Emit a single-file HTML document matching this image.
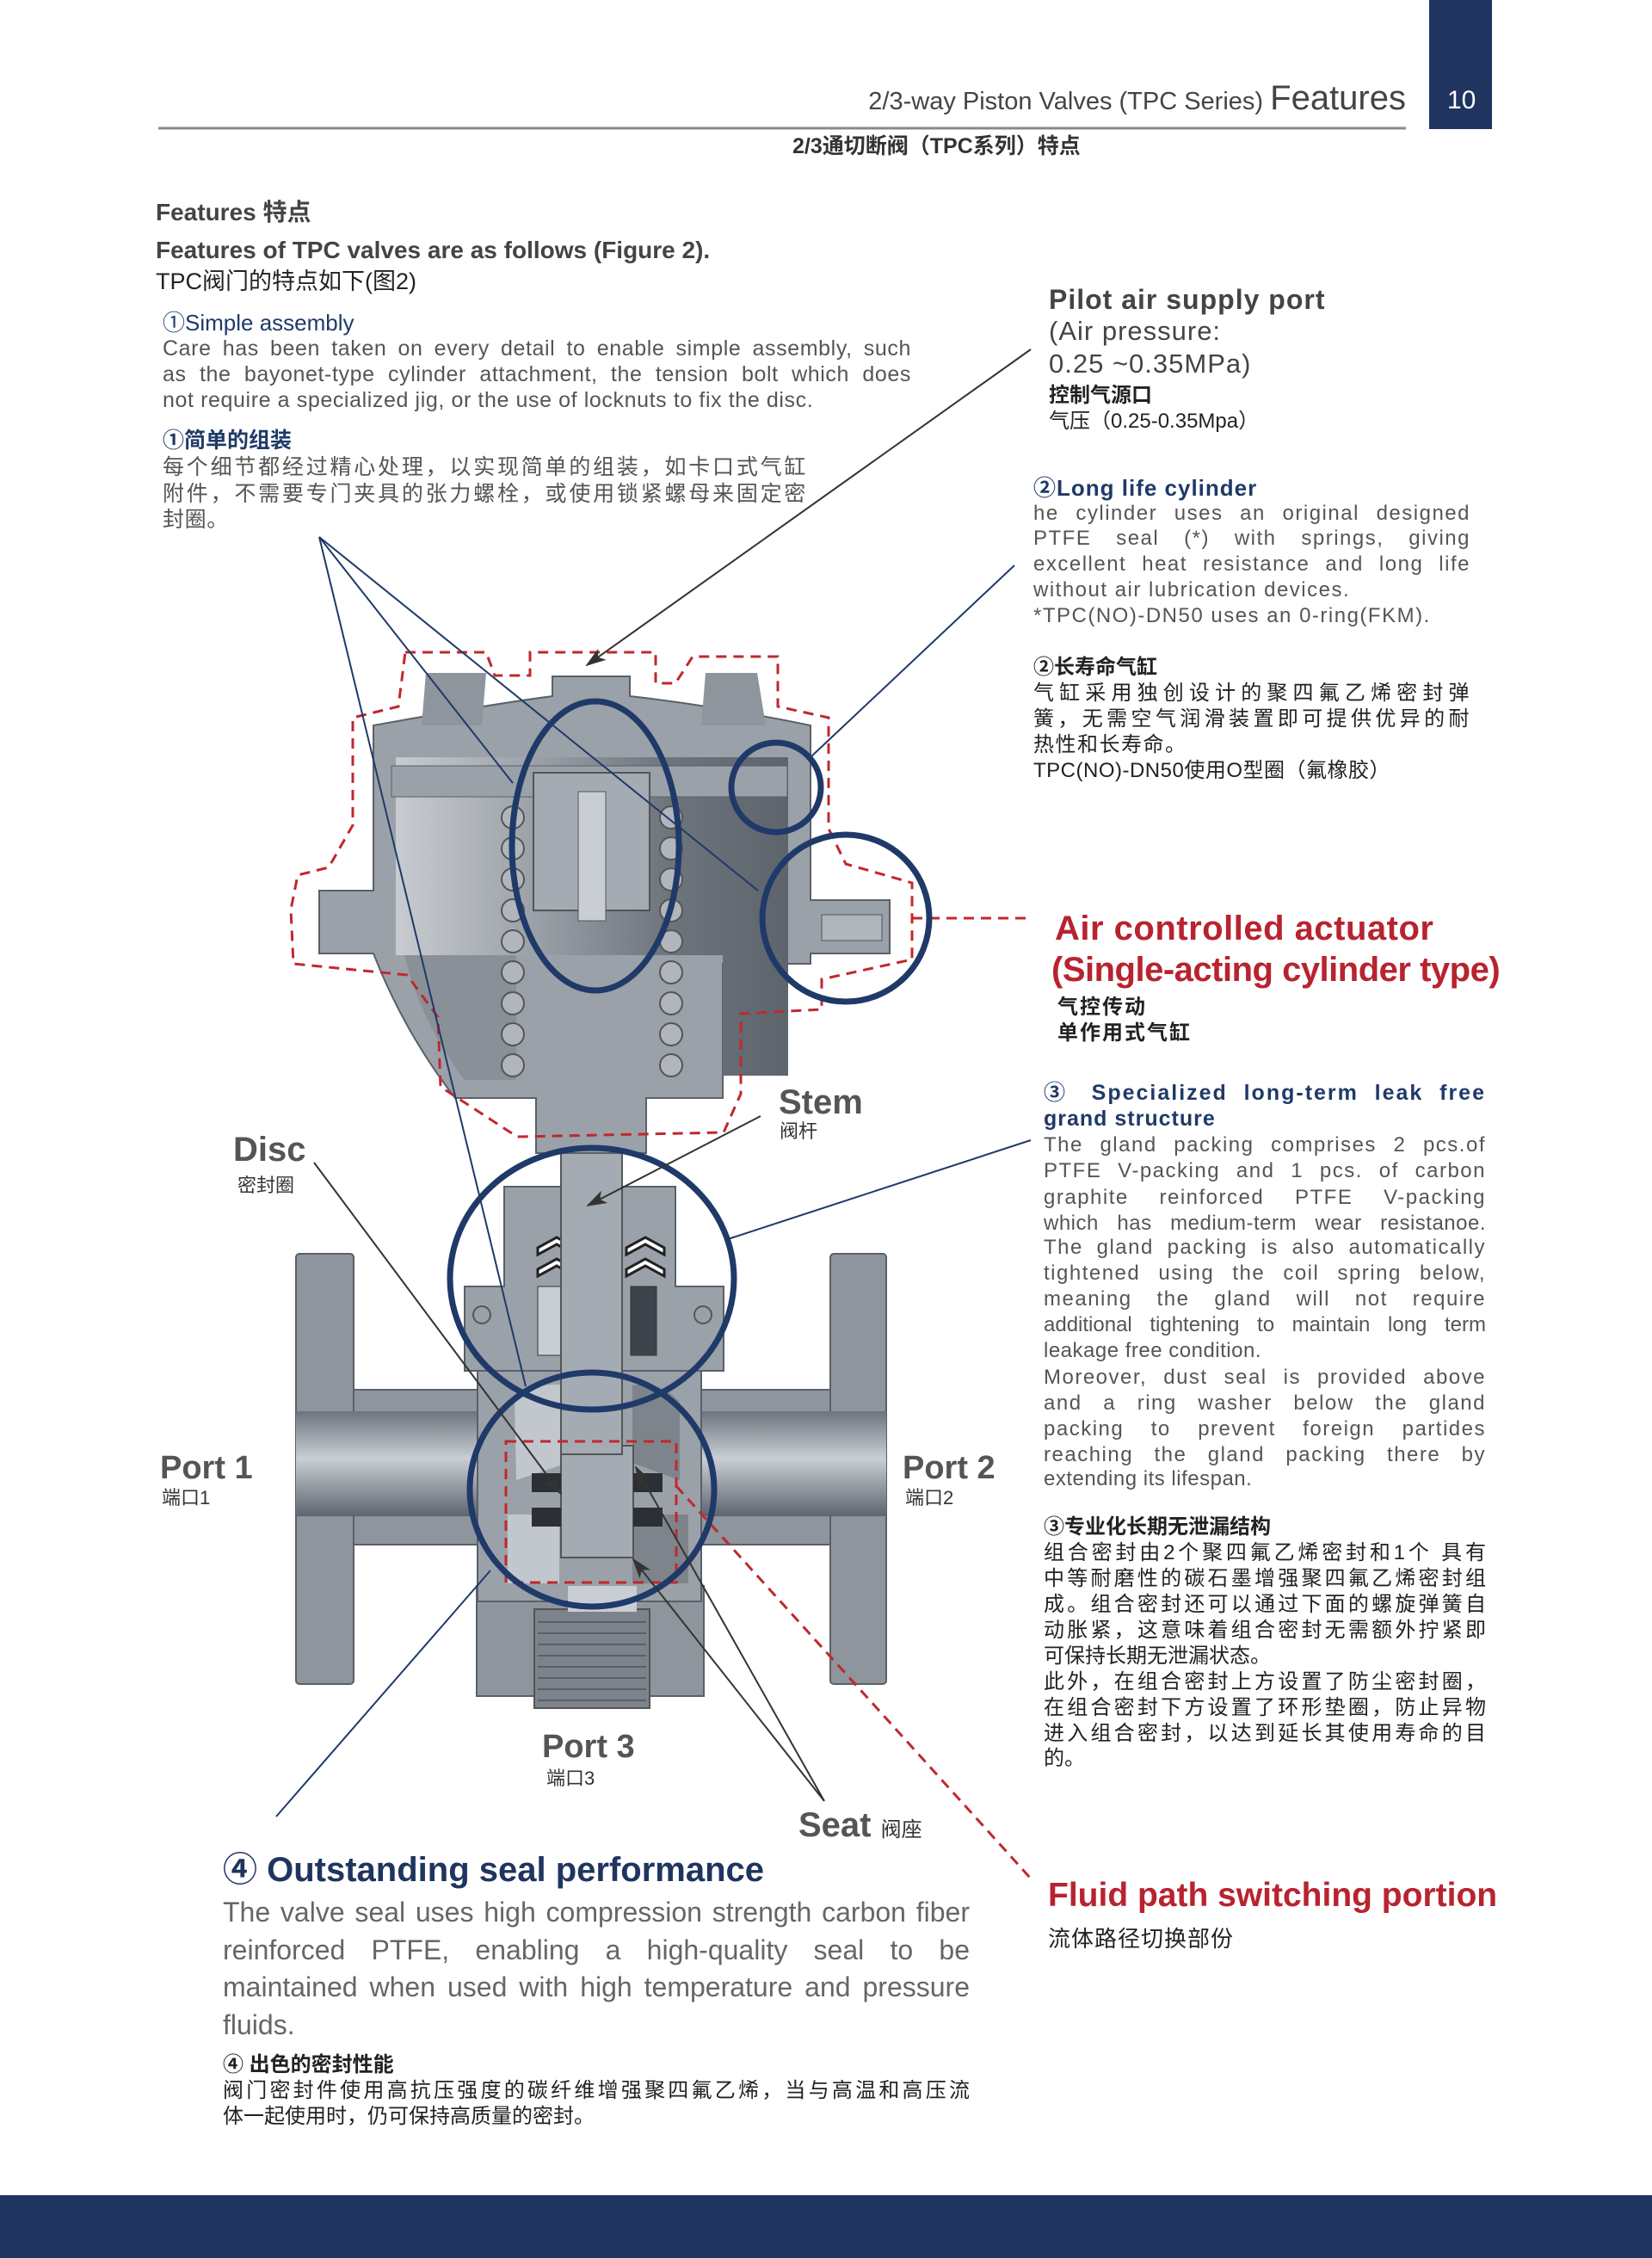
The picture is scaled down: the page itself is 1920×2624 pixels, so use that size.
<!DOCTYPE html>
<html><head><meta charset="utf-8">
<style>
*{margin:0;padding:0;box-sizing:border-box}
body{width:1920px;height:2624px;position:relative;background:#fff;overflow:hidden;font-family:"Liberation Sans","Noto Sans CJK SC",sans-serif;color:#444}
.t{position:absolute;white-space:nowrap;line-height:1}
.j{position:absolute;text-align:justify;text-align-last:justify;white-space:nowrap;line-height:1}
.n{color:#1f3a68}
.r{color:#b8232f}
.b{font-weight:bold}
.p1{font-size:25px;color:#555;letter-spacing:.6px}
.pr{font-size:24px;color:#555;letter-spacing:1.5px}
svg{position:absolute;left:0;top:0}
</style></head><body>
<svg width="1920" height="2624" viewBox="0 0 1920 2624">
<defs>
<marker id="ag" markerWidth="24" markerHeight="16" refX="22" refY="8" orient="auto" markerUnits="userSpaceOnUse"><path d="M0,0 L24,8 L0,16 L6,8 z" fill="#333"/></marker>
<linearGradient id="pipe" x1="0" y1="0" x2="0" y2="1"><stop offset="0" stop-color="#6d747d"/><stop offset=".45" stop-color="#c9ced4"/><stop offset="1" stop-color="#5e656e"/></linearGradient>
<linearGradient id="cav" x1="0" y1="0" x2="1" y2="0"><stop offset="0" stop-color="#c8ccd1"/><stop offset=".35" stop-color="#9ba1a8"/><stop offset=".7" stop-color="#6d747c"/><stop offset="1" stop-color="#5d646c"/></linearGradient>
</defs>
<rect x="1661" y="0" width="73" height="150" fill="#1f3560"/>
<line x1="184" y1="149" x2="1634" y2="149" stroke="#888" stroke-width="3"/>
<rect x="0" y="2551" width="1920" height="73" fill="#1f3560"/>

<rect x="344" y="1457" width="67" height="500" rx="4" fill="#8e959d" stroke="#5a6068" stroke-width="2"/>
<rect x="965" y="1457" width="65" height="500" rx="4" fill="#8e959d" stroke="#5a6068" stroke-width="2"/>
<rect x="411" y="1615" width="554" height="180" fill="#8e959d" stroke="#5a6068" stroke-width="2"/>
<rect x="344" y="1640" width="686" height="122" fill="url(#pipe)"/>
<rect x="554" y="1843" width="264" height="128" fill="#8e959d" stroke="#5a6068" stroke-width="2"/>
<rect x="621" y="1870" width="134" height="115" fill="#7c838b" stroke="#555" stroke-width="2"/>
<g stroke="#5a6068" stroke-width="2">
<line x1="625" y1="1885" x2="751" y2="1885"/><line x1="625" y1="1898" x2="751" y2="1898"/><line x1="625" y1="1911" x2="751" y2="1911"/><line x1="625" y1="1924" x2="751" y2="1924"/><line x1="625" y1="1937" x2="751" y2="1937"/><line x1="625" y1="1950" x2="751" y2="1950"/><line x1="625" y1="1963" x2="751" y2="1963"/><line x1="625" y1="1976" x2="751" y2="1976"/></g>
<path d="M555,1593 L815,1593 L815,1861 L555,1861 Z" fill="#9aa1a8" stroke="#5a6068" stroke-width="2"/>
<path d="M598,1625 Q620,1605 660,1610 L660,1700 L600,1720 Z" fill="#c2c7cd"/>
<path d="M735,1610 Q770,1605 790,1630 L790,1720 L735,1700 Z" fill="#7d848c"/>
<path d="M590,1760 L650,1760 L650,1840 L590,1840 Z" fill="#c2c7cd"/>
<path d="M735,1760 L800,1760 L800,1840 L735,1840 Z" fill="#7d848c"/>
<rect x="652" y="1680" width="84" height="130" fill="#a5abb2" stroke="#555" stroke-width="2"/>
<rect x="618" y="1712" width="34" height="22" fill="#2c3036"/><rect x="618" y="1752" width="34" height="22" fill="#2c3036"/>
<rect x="736" y="1712" width="34" height="22" fill="#2c3036"/><rect x="736" y="1752" width="34" height="22" fill="#2c3036"/>
<rect x="660" y="1843" width="80" height="30" fill="#c9ced4"/>
<path d="M540,1495 L586,1495 L586,1379 L785,1379 L785,1495 L841,1495 L841,1593 L540,1593 Z" fill="#9aa1a8" stroke="#5a6068" stroke-width="2"/>
<circle cx="560" cy="1528" r="10" fill="none" stroke="#555" stroke-width="2"/><circle cx="817" cy="1528" r="10" fill="none" stroke="#555" stroke-width="2"/>
<g fill="#fff" stroke="#222" stroke-width="3"><path d="M625,1450 l22,-12 l22,12 v8 l-22,-12 l-22,12z"/><path d="M625,1475 l22,-12 l22,12 v8 l-22,-12 l-22,12z"/><path d="M728,1450 l22,-12 l22,12 v8 l-22,-12 l-22,12z"/><path d="M728,1475 l22,-12 l22,12 v8 l-22,-12 l-22,12z"/></g>
<rect x="625" y="1495" width="30" height="80" fill="#c9ced4" stroke="#333"/><rect x="733" y="1495" width="30" height="80" fill="#3e444b" stroke="#333"/>
<rect x="652" y="1050" width="71" height="640" fill="#a5abb2" stroke="#555" stroke-width="2"/>
<path d="M371,1035 L434,1035 L434,843 Q560,820 642,809 L642,786 L732,786 L732,809 Q830,820 942,843 L942,1046 L1034,1046 L1034,1108 L942,1108 L942,1120 L840,1120 L840,1276 L751,1276 L751,1340 L623,1340 L623,1276 L529,1276 Q470,1200 434,1108 L371,1108 Z" fill="#9aa1a8" stroke="#5a6068" stroke-width="2"/>
<path d="M495,782 L565,782 L560,843 L490,843 Z" fill="#8e959d"/><path d="M820,782 L880,782 L890,843 L815,843 Z" fill="#8e959d"/>
<path d="M460,880 L916,880 L916,1250 L840,1250 L840,1110 L460,1110 Z" fill="url(#cav)"/>
<path d="M470,1110 L600,1110 L600,1255 L540,1255 Q490,1190 470,1110Z" fill="#8a9098"/>
<rect x="455" y="890" width="460" height="36" fill="#9aa1a8" stroke="#5a6068"/>
<rect x="620" y="898" width="135" height="160" fill="#a5abb2" stroke="#555" stroke-width="2"/>
<rect x="672" y="920" width="32" height="150" fill="#c9ced4" stroke="#555"/>
<g fill="#b0b6bc" stroke="#555" stroke-width="2">
<circle cx="596" cy="950" r="13"/><circle cx="596" cy="986" r="13"/><circle cx="596" cy="1022" r="13"/><circle cx="596" cy="1058" r="13"/><circle cx="596" cy="1094" r="13"/><circle cx="596" cy="1130" r="13"/><circle cx="596" cy="1166" r="13"/><circle cx="596" cy="1202" r="13"/><circle cx="596" cy="1238" r="13"/>
<circle cx="780" cy="950" r="13"/><circle cx="780" cy="986" r="13"/><circle cx="780" cy="1022" r="13"/><circle cx="780" cy="1058" r="13"/><circle cx="780" cy="1094" r="13"/><circle cx="780" cy="1130" r="13"/><circle cx="780" cy="1166" r="13"/><circle cx="780" cy="1202" r="13"/><circle cx="780" cy="1238" r="13"/></g>
<rect x="955" y="1063" width="70" height="30" fill="#b0b6bc" stroke="#555"/>

<g fill="none" stroke="#c0282e" stroke-width="3" stroke-dasharray="12,8">
<path d="M471,758 L565,758 L575,785 L616,785 L616,758 L762,758 L762,794 L785,794 L805,763 L904,763 L904,821 L963,834 L963,963 L983,1004 L1060,1026 L1060,1115 L955,1138 L955,1173 L861,1178 L861,1271 L841,1316 L601,1321 L512,1263 L509,1182 L473,1133 L341,1120 L338,1057 L346,1017 L382,1008 L410,959 L410,834 L463,821 Z"/>
<line x1="1060" y1="1067" x2="1198" y2="1067"/>
<rect x="588" y="1675" width="198" height="164"/>
<line x1="786" y1="1727" x2="1198" y2="2183"/>
</g>

<g fill="none" stroke="#1f3a68" stroke-width="7">
<ellipse cx="692" cy="983" rx="97" ry="168"/>
<circle cx="902" cy="915" r="52"/>
<circle cx="983" cy="1067" r="97"/>
<ellipse cx="688" cy="1486" rx="165" ry="152"/>
<ellipse cx="688" cy="1731" rx="142" ry="136"/>
</g>
<g stroke="#1f3a68" stroke-width="2" fill="none">
<line x1="371" y1="624" x2="596" y2="910"/>
<line x1="371" y1="624" x2="881" y2="1035"/>
<line x1="371" y1="624" x2="611" y2="1611"/>
<line x1="1179" y1="657" x2="943" y2="879"/>
<line x1="1198" y1="1325" x2="846" y2="1440"/>
<line x1="321" y1="2111" x2="570" y2="1825"/>
</g>
<g stroke="#333" stroke-width="2" fill="none">
<line x1="1198" y1="406" x2="682" y2="773" marker-end="url(#ag)"/>
<line x1="884" y1="1297" x2="683" y2="1401" marker-end="url(#ag)"/>
<line x1="365" y1="1351" x2="652" y2="1736" marker-end="url(#ag)"/>
<line x1="958" y1="2093" x2="739" y2="1705" marker-end="url(#ag)"/>
<line x1="958" y1="2093" x2="736" y2="1812" marker-end="url(#ag)"/>
</g>
</svg>

<div class="t" style="right:286px;top:94px;font-size:29px;color:#444"><span style="font-size:29px">2/3-way Piston Valves (TPC Series)</span> <span style="font-size:40px">Features</span></div>
<div class="t" style="left:1682px;top:102px;font-size:30px;color:#fff">10</div>
<div class="t b" style="left:921px;top:158px;font-size:25px;color:#333">2/3通切断阀（TPC系列）特点</div>

<div class="t b" style="left:181px;top:233px;font-size:28px;color:#444">Features 特点</div>
<div class="t b" style="left:181px;top:277px;font-size:28px;color:#444">Features of TPC valves are as follows (Figure 2).</div>
<div class="t" style="left:181px;top:314px;font-size:27px;color:#222">TPC阀门的特点如下(图2)</div>
<div class="t n" style="left:189px;top:362px;font-size:26px">①Simple assembly</div>
<div class="j p1" style="left:189px;top:393px;width:870px">Care has been taken on every detail to enable simple assembly, such</div>
<div class="j p1" style="left:189px;top:423px;width:870px">as the bayonet-type cylinder attachment, the tension bolt which does</div>
<div class="t p1" style="left:189px;top:453px">not require a specialized jig, or the use of locknuts to fix the disc.</div>
<div class="t n b" style="left:189px;top:500px;font-size:25px">①简单的组装</div>
<div class="j p1" style="left:189px;top:531px;width:748px">每个细节都经过精心处理，以实现简单的组装，如卡口式气缸</div>
<div class="j p1" style="left:189px;top:562px;width:748px">附件，不需要专门夹具的张力螺栓，或使用锁紧螺母来固定密</div>
<div class="t p1" style="left:189px;top:592px">封圈。</div>

<div class="t b" style="left:1219px;top:332px;font-size:32px;color:#444;letter-spacing:1px">Pilot air supply port</div>
<div class="t" style="left:1219px;top:369px;font-size:31px;color:#444;letter-spacing:1px">(Air pressure:</div>
<div class="t" style="left:1219px;top:407px;font-size:31px;color:#444;letter-spacing:1px">0.25 ~0.35MPa)</div>
<div class="t b" style="left:1219px;top:448px;font-size:24px;color:#222">控制气源口</div>
<div class="t" style="left:1219px;top:478px;font-size:24px;color:#222">气压（0.25-0.35Mpa）</div>
<div class="t n b" style="left:1201px;top:554px;font-size:26px;letter-spacing:1px">②Long life cylinder</div>
<div class="j pr" style="left:1201px;top:585px;width:508px">he cylinder uses an original designed</div>
<div class="j pr" style="left:1201px;top:614px;width:508px">PTFE seal (*) with springs, giving</div>
<div class="j pr" style="left:1201px;top:644px;width:508px">excellent heat resistance and long life</div>
<div class="t pr" style="left:1201px;top:674px">without air lubrication devices.</div>
<div class="t pr" style="left:1201px;top:704px">*TPC(NO)-DN50 uses an 0-ring(FKM).</div>
<div class="t b" style="left:1201px;top:764px;font-size:24px;color:#222">②长寿命气缸</div>
<div class="j pr" style="left:1201px;top:794px;width:508px;color:#222">气缸采用独创设计的聚四氟乙烯密封弹</div>
<div class="j pr" style="left:1201px;top:824px;width:508px;color:#222">簧，无需空气润滑装置即可提供优异的耐</div>
<div class="t pr" style="left:1201px;top:854px;color:#222">热性和长寿命。</div>
<div class="t pr" style="left:1201px;top:884px;color:#222;letter-spacing:.5px">TPC(NO)-DN50使用O型圈（氟橡胶）</div>

<div class="t r b" style="left:1226px;top:1059px;font-size:40px;letter-spacing:.5px">Air controlled actuator</div>
<div class="t r b" style="left:1222px;top:1107px;font-size:40px;letter-spacing:-.5px">(Single-acting cylinder type)</div>
<div class="t b" style="left:1229px;top:1159px;font-size:24px;color:#222;letter-spacing:2px">气控传动</div>
<div class="t b" style="left:1229px;top:1189px;font-size:24px;color:#222;letter-spacing:2px">单作用式气缸</div>

<div class="j n b" style="left:1213px;top:1258px;width:514px;font-size:25px;letter-spacing:2px">③ Specialized long-term leak free</div>
<div class="t n b" style="left:1213px;top:1288px;font-size:25px;letter-spacing:1px">grand structure</div>
<div class="j pr" style="left:1213px;top:1319px;width:514px">The gland packing comprises 2 pcs.of</div>
<div class="j pr" style="left:1213px;top:1349px;width:514px">PTFE V-packing and 1 pcs. of carbon</div>
<div class="j pr" style="left:1213px;top:1380px;width:514px">graphite reinforced PTFE V-packing</div>
<div class="j pr" style="left:1213px;top:1410px;width:514px;letter-spacing:.5px">which has medium-term wear resistanoe.</div>
<div class="j pr" style="left:1213px;top:1438px;width:514px">The gland packing is also automatically</div>
<div class="j pr" style="left:1213px;top:1468px;width:514px">tightened using the coil spring below,</div>
<div class="j pr" style="left:1213px;top:1498px;width:514px">meaning the gland will not require</div>
<div class="j pr" style="left:1213px;top:1528px;width:514px;letter-spacing:0">additional tightening to maintain long term</div>
<div class="t pr" style="left:1213px;top:1558px;letter-spacing:.5px">leakage free condition.</div>
<div class="j pr" style="left:1213px;top:1589px;width:514px">Moreover, dust seal is provided above</div>
<div class="j pr" style="left:1213px;top:1619px;width:514px">and a ring washer below the gland</div>
<div class="j pr" style="left:1213px;top:1649px;width:514px">packing to prevent foreign partides</div>
<div class="j pr" style="left:1213px;top:1679px;width:514px">reaching the gland packing there by</div>
<div class="t pr" style="left:1213px;top:1707px;letter-spacing:.5px">extending its lifespan.</div>

<div class="t b" style="left:1213px;top:1763px;font-size:24px;color:#222">③专业化长期无泄漏结构</div>
<div class="j" style="left:1213px;top:1793px;width:514px;font-size:24px;color:#222">组合密封由2个聚四氟乙烯密封和1个 具有</div>
<div class="j" style="left:1213px;top:1823px;width:514px;font-size:24px;color:#222">中等耐磨性的碳石墨增强聚四氟乙烯密封组</div>
<div class="j" style="left:1213px;top:1853px;width:514px;font-size:24px;color:#222">成。组合密封还可以通过下面的螺旋弹簧自</div>
<div class="j" style="left:1213px;top:1883px;width:514px;font-size:24px;color:#222">动胀紧，这意味着组合密封无需额外拧紧即</div>
<div class="t" style="left:1213px;top:1913px;font-size:24px;color:#222">可保持长期无泄漏状态。</div>
<div class="j" style="left:1213px;top:1943px;width:514px;font-size:24px;color:#222">此外，在组合密封上方设置了防尘密封圈，</div>
<div class="j" style="left:1213px;top:1973px;width:514px;font-size:24px;color:#222">在组合密封下方设置了环形垫圈，防止异物</div>
<div class="j" style="left:1213px;top:2003px;width:514px;font-size:24px;color:#222">进入组合密封，以达到延长其使用寿命的目</div>
<div class="t" style="left:1213px;top:2032px;font-size:24px;color:#222">的。</div>

<div class="t r b" style="left:1218px;top:2183px;font-size:39px">Fluid path switching portion</div>
<div class="t" style="left:1218px;top:2240px;font-size:26px;color:#222;letter-spacing:1px">流体路径切换部份</div>

<div class="t b" style="left:259px;top:2153px;font-size:40px;color:#1f3560">④ Outstanding seal performance</div>
<div class="j" style="left:259px;top:2206px;width:868px;font-size:32px;color:#666;font-family:'Liberation Sans Narrow','Liberation Sans',sans-serif">The valve seal uses high compression strength carbon fiber</div>
<div class="j" style="left:259px;top:2250px;width:868px;font-size:32px;color:#666;font-family:'Liberation Sans Narrow','Liberation Sans',sans-serif">reinforced PTFE, enabling a high-quality seal to be</div>
<div class="j" style="left:259px;top:2293px;width:868px;font-size:32px;color:#666;font-family:'Liberation Sans Narrow','Liberation Sans',sans-serif">maintained when used with high temperature and pressure</div>
<div class="t" style="left:259px;top:2337px;font-size:32px;color:#666;font-family:'Liberation Sans Narrow','Liberation Sans',sans-serif">fluids.</div>
<div class="t b" style="left:259px;top:2388px;font-size:24px;color:#222">④ 出色的密封性能</div>
<div class="j" style="left:259px;top:2418px;width:868px;font-size:24px;color:#222">阀门密封件使用高抗压强度的碳纤维增强聚四氟乙烯，当与高温和高压流</div>
<div class="t" style="left:259px;top:2448px;font-size:24px;color:#222">体一起使用时，仍可保持高质量的密封。</div>

<div class="t b" style="left:905px;top:1261px;font-size:40px;color:#555">Stem</div>
<div class="t" style="left:906px;top:1304px;font-size:22px;color:#333">阀杆</div>
<div class="t b" style="left:271px;top:1316px;font-size:40px;color:#555">Disc</div>
<div class="t" style="left:276px;top:1367px;font-size:22px;color:#333">密封圈</div>
<div class="t b" style="left:186px;top:1687px;font-size:38px;color:#555">Port 1</div>
<div class="t" style="left:188px;top:1730px;font-size:22px;color:#333">端口1</div>
<div class="t b" style="left:1049px;top:1687px;font-size:38px;color:#555">Port 2</div>
<div class="t" style="left:1052px;top:1730px;font-size:22px;color:#333">端口2</div>
<div class="t b" style="left:630px;top:2011px;font-size:38px;color:#555">Port 3</div>
<div class="t" style="left:635px;top:2056px;font-size:22px;color:#333">端口3</div>
<div class="t b" style="left:928px;top:2101px;font-size:40px;color:#555">Seat <span style="font-size:24px;color:#333;font-weight:normal">阀座</span></div>
</body></html>
